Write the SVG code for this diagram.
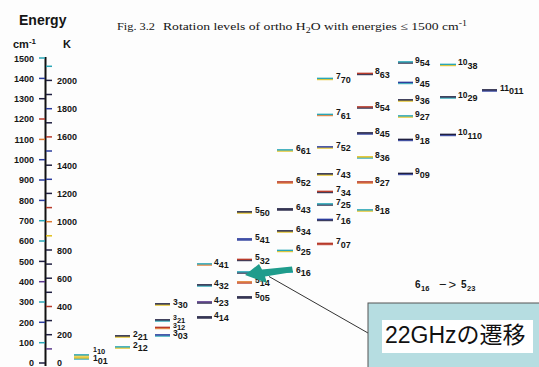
<svg xmlns="http://www.w3.org/2000/svg" width="539" height="367" viewBox="0 0 539 367">
<style>
text{font-family:"Liberation Sans",Arial,sans-serif;fill:#151515}
.ax{font-size:9px;font-weight:bold}
.axr{font-size:9px;font-weight:bold;text-anchor:end}
.hd{font-size:11px;font-weight:bold}
.lb{font-weight:bold}
.j{font-size:8.5px}
.s{font-size:9px}
.sm .j{font-size:7px}
.sm .s{font-size:7.5px}
.ti{font-family:"Liberation Serif","Times New Roman",serif;font-size:11px}
line.m{stroke-width:1.7}
line.a{stroke-width:1}
.k{stroke:#1f1f40}.n{stroke:#2b3c9c}.c{stroke:#2aa6b6}.r{stroke:#b83a2a}.o{stroke:#e07a30}.y{stroke:#e2c01c}.p{stroke:#5b3a8c}
.tk{stroke-width:1.5}
</style>
<rect width="539" height="367" fill="#fdfdfd"/>

<g id="header">
<text x="19" y="25" style="font-size:14px;font-weight:bold">Energy</text>
<text x="13" y="48" class="hd">cm<tspan dy="-4" style="font-size:8px">-1</tspan></text>
<text x="63" y="48" class="hd">K</text>
<text x="117" y="30" class="ti" textLength="38" lengthAdjust="spacingAndGlyphs">Fig. 3.2</text>
<text x="163" y="30" class="ti" textLength="304" lengthAdjust="spacingAndGlyphs">Rotation levels of ortho H<tspan dy="3" style="font-size:8px">2</tspan><tspan dy="-3">O with energies ≤ 1500 cm</tspan><tspan dy="-4" style="font-size:8px">-1</tspan></text>
</g>

<g id="axis">
<line x1="45.5" y1="57" x2="45.5" y2="366" stroke="#111" stroke-width="2"/>
<g class="tk">
<line x1="39" y1="58" x2="45" y2="58" class="c"/>
<line x1="39" y1="78.4" x2="45" y2="78.4" class="n"/>
<line x1="39" y1="98.7" x2="45" y2="98.7" class="k"/>
<line x1="39" y1="119" x2="45" y2="119" class="r"/>
<line x1="39" y1="139.4" x2="45" y2="139.4" class="o"/>
<line x1="39" y1="159.7" x2="45" y2="159.7" class="n"/>
<line x1="39" y1="180" x2="45" y2="180" class="n"/>
<line x1="39" y1="200.4" x2="45" y2="200.4" class="n"/>
<line x1="39" y1="220.7" x2="45" y2="220.7" class="c"/>
<line x1="39" y1="241" x2="45" y2="241" class="c"/>
<line x1="39" y1="261.4" x2="45" y2="261.4" class="k"/>
<line x1="39" y1="281.7" x2="45" y2="281.7" class="p"/>
<line x1="39" y1="302" x2="45" y2="302" class="c"/>
<line x1="39" y1="322.3" x2="45" y2="322.3" class="n"/>
<line x1="39" y1="342.7" x2="45" y2="342.7" class="c"/>
<line x1="39" y1="363" x2="45" y2="363" class="k"/>
<line x1="46" y1="66.3" x2="52" y2="66.3" class="c"/>
<line x1="46" y1="80.4" x2="52" y2="80.4" class="k"/>
<line x1="46" y1="94.5" x2="52" y2="94.5" class="k"/>
<line x1="46" y1="108.7" x2="52" y2="108.7" class="n"/>
<line x1="46" y1="122.8" x2="52" y2="122.8" class="k"/>
<line x1="46" y1="136.9" x2="52" y2="136.9" class="r"/>
<line x1="46" y1="151" x2="52" y2="151" class="n"/>
<line x1="46" y1="165.2" x2="52" y2="165.2" class="k"/>
<line x1="46" y1="179.3" x2="52" y2="179.3" class="n"/>
<line x1="46" y1="193.4" x2="52" y2="193.4" class="k"/>
<line x1="46" y1="207.6" x2="52" y2="207.6" class="r"/>
<line x1="46" y1="221.7" x2="52" y2="221.7" class="o"/>
<line x1="46" y1="235.8" x2="52" y2="235.8" class="y"/>
<line x1="46" y1="250" x2="52" y2="250" class="k"/>
<line x1="46" y1="264.1" x2="52" y2="264.1" class="k"/>
<line x1="46" y1="278.2" x2="52" y2="278.2" class="k"/>
<line x1="46" y1="292.3" x2="52" y2="292.3" class="k"/>
<line x1="46" y1="306.5" x2="52" y2="306.5" class="r"/>
<line x1="46" y1="320.6" x2="52" y2="320.6" class="k"/>
<line x1="46" y1="334.7" x2="52" y2="334.7" class="k"/>
<line x1="46" y1="348.9" x2="52" y2="348.9" class="p"/>
</g>
<text class="axr" x="34" y="62">1500</text>
<text class="axr" x="34" y="82">1400</text>
<text class="axr" x="34" y="102">1300</text>
<text class="axr" x="34" y="122">1200</text>
<text class="axr" x="34" y="143">1100</text>
<text class="axr" x="34" y="163">1000</text>
<text class="axr" x="34" y="183">900</text>
<text class="axr" x="34" y="204">800</text>
<text class="axr" x="34" y="224">700</text>
<text class="axr" x="34" y="244">600</text>
<text class="axr" x="34" y="265">500</text>
<text class="axr" x="34" y="285">400</text>
<text class="axr" x="34" y="305">300</text>
<text class="axr" x="34" y="326">200</text>
<text class="axr" x="34" y="346">100</text>
<text class="axr" x="34" y="366">0</text>
<text class="ax" x="57" y="84">2000</text>
<text class="ax" x="57" y="112">1800</text>
<text class="ax" x="57" y="140">1600</text>
<text class="ax" x="57" y="169">1400</text>
<text class="ax" x="57" y="197">1200</text>
<text class="ax" x="57" y="225">1000</text>
<text class="ax" x="57" y="254">800</text>
<text class="ax" x="57" y="282">600</text>
<text class="ax" x="57" y="310">400</text>
<text class="ax" x="57" y="338">200</text>
<text class="ax" x="57" y="366">0</text>
</g>

<g id="l1_10"><line class="m c" x1="74" y1="355" x2="89" y2="355"/><line class="a y" x1="74" y1="356.2" x2="89" y2="356.2"/><text class="lb sm" x="93" y="351.5"><tspan class="j">1</tspan><tspan class="s" dy="2">10</tspan></text></g>
<g id="l1_01"><line class="m y" x1="74" y1="358" x2="89" y2="358"/><line class="a c" x1="74" y1="359.2" x2="89" y2="359.2"/><text class="lb" x="93" y="360.5"><tspan class="j">1</tspan><tspan class="s" dy="3.5">01</tspan></text></g>

<g id="l2_21"><line class="m k" x1="115" y1="336" x2="130" y2="336"/><line class="a y" x1="115" y1="337.2" x2="130" y2="337.2"/><text class="lb" x="133" y="336.5"><tspan class="j">2</tspan><tspan class="s" dy="3.5">21</tspan></text></g>
<g id="l2_12"><line class="m c" x1="115" y1="347" x2="130" y2="347"/><line class="a y" x1="115" y1="348.2" x2="130" y2="348.2"/><text class="lb" x="133" y="347.5"><tspan class="j">2</tspan><tspan class="s" dy="3.5">12</tspan></text></g>

<g id="l3_30"><line class="m k" x1="155" y1="304" x2="170" y2="304"/><line class="a y" x1="155" y1="305.2" x2="170" y2="305.2"/><text class="lb" x="173" y="304.5"><tspan class="j">3</tspan><tspan class="s" dy="3.5">30</tspan></text></g>
<g id="l3_21"><line class="m k" x1="155" y1="320" x2="170" y2="320"/><line class="a c" x1="155" y1="321.2" x2="170" y2="321.2"/><text class="lb sm" x="173" y="320"><tspan class="j">3</tspan><tspan class="s" dy="2.5">21</tspan></text></g>
<g id="l3_12"><line class="m r" x1="155" y1="327.5" x2="170" y2="327.5"/><line class="a o" x1="155" y1="328.7" x2="170" y2="328.7"/><text class="lb sm" x="173" y="327.5"><tspan class="j">3</tspan><tspan class="s" dy="2.5">12</tspan></text></g>
<g id="l3_03"><line class="m n" x1="155" y1="335" x2="170" y2="335"/><line class="a c" x1="155" y1="336.2" x2="170" y2="336.2"/><text class="lb" x="173" y="335.8"><tspan class="j">3</tspan><tspan class="s" dy="3.5">03</tspan></text></g>

<g id="l4_41"><line class="m c" x1="197" y1="264" x2="212" y2="264"/><line class="a o" x1="197" y1="265.2" x2="212" y2="265.2"/><text class="lb" x="214" y="264.5"><tspan class="j">4</tspan><tspan class="s" dy="3.5">41</tspan></text></g>
<g id="l4_32"><line class="m k" x1="197" y1="285" x2="212" y2="285"/><line class="a c" x1="197" y1="286.2" x2="212" y2="286.2"/><text class="lb" x="214" y="285.5"><tspan class="j">4</tspan><tspan class="s" dy="3.5">32</tspan></text></g>
<g id="l4_23"><line class="m p" x1="197" y1="302" x2="212" y2="302"/><line class="a k" x1="197" y1="303.2" x2="212" y2="303.2"/><text class="lb" x="214" y="302.5"><tspan class="j">4</tspan><tspan class="s" dy="3.5">23</tspan></text></g>
<g id="l4_14"><line class="m k" x1="197" y1="317" x2="212" y2="317"/><line class="a k" x1="197" y1="318.2" x2="212" y2="318.2"/><text class="lb" x="214" y="317.5"><tspan class="j">4</tspan><tspan class="s" dy="3.5">14</tspan></text></g>

<g id="l5_50"><line class="m k" x1="237" y1="212" x2="252" y2="212"/><line class="a y" x1="237" y1="213.2" x2="252" y2="213.2"/><text class="lb" x="255" y="212.5"><tspan class="j">5</tspan><tspan class="s" dy="3.5">50</tspan></text></g>
<g id="l5_41"><line class="m n" x1="237" y1="239" x2="252" y2="239"/><line class="a n" x1="237" y1="240.2" x2="252" y2="240.2"/><text class="lb" x="255" y="239.5"><tspan class="j">5</tspan><tspan class="s" dy="3.5">41</tspan></text></g>
<g id="l5_32"><line class="m r" x1="237" y1="259.5" x2="252" y2="259.5"/><line class="a k" x1="237" y1="260.7" x2="252" y2="260.7"/><text class="lb" x="255" y="260"><tspan class="j">5</tspan><tspan class="s" dy="3.5">32</tspan></text></g>
<g id="l5_23"><line class="m c" x1="237" y1="272" x2="252" y2="272"/><line class="a k" x1="237" y1="273.2" x2="252" y2="273.2"/><text class="lb" x="255" y="272.5"><tspan class="j">5</tspan><tspan class="s" dy="3.5">23</tspan></text></g>
<g id="l5_14"><line class="m o" x1="237" y1="282" x2="252" y2="282"/><line class="a r" x1="237" y1="283.2" x2="252" y2="283.2"/><text class="lb" x="255" y="282.5"><tspan class="j">5</tspan><tspan class="s" dy="3.5">14</tspan></text></g>
<g id="l5_05"><line class="m k" x1="237" y1="297" x2="252" y2="297"/><line class="a k" x1="237" y1="298.2" x2="252" y2="298.2"/><text class="lb" x="255" y="297.5"><tspan class="j">5</tspan><tspan class="s" dy="3.5">05</tspan></text></g>

<g id="l6_61"><line class="m c" x1="277" y1="150" x2="293" y2="150"/><line class="a y" x1="277" y1="151.2" x2="293" y2="151.2"/><text class="lb" x="296" y="150.5"><tspan class="j">6</tspan><tspan class="s" dy="3.5">61</tspan></text></g>
<g id="l6_52"><line class="m r" x1="277" y1="182" x2="293" y2="182"/><line class="a o" x1="277" y1="183.2" x2="293" y2="183.2"/><text class="lb" x="296" y="182.5"><tspan class="j">6</tspan><tspan class="s" dy="3.5">52</tspan></text></g>
<g id="l6_43"><line class="m k" x1="277" y1="209" x2="293" y2="209"/><line class="a k" x1="277" y1="210.2" x2="293" y2="210.2"/><text class="lb" x="296" y="209.5"><tspan class="j">6</tspan><tspan class="s" dy="3.5">43</tspan></text></g>
<g id="l6_34"><line class="m k" x1="277" y1="231" x2="293" y2="231"/><line class="a y" x1="277" y1="232.2" x2="293" y2="232.2"/><text class="lb" x="296" y="231.5"><tspan class="j">6</tspan><tspan class="s" dy="3.5">34</tspan></text></g>
<g id="l6_25"><line class="m c" x1="277" y1="250.5" x2="293" y2="250.5"/><line class="a y" x1="277" y1="251.7" x2="293" y2="251.7"/><text class="lb" x="296" y="251"><tspan class="j">6</tspan><tspan class="s" dy="3.5">25</tspan></text></g>
<g id="l6_16"><line class="m c" x1="277" y1="272" x2="293" y2="272"/><text class="lb" x="296" y="272.5"><tspan class="j">6</tspan><tspan class="s" dy="3.5">16</tspan></text></g>

<g id="l7_70"><line class="m c" x1="317" y1="78.5" x2="333" y2="78.5"/><line class="a y" x1="317" y1="79.7" x2="333" y2="79.7"/><text class="lb" x="336" y="79"><tspan class="j">7</tspan><tspan class="s" dy="3.5">70</tspan></text></g>
<g id="l7_61"><line class="m c" x1="317" y1="114.5" x2="333" y2="114.5"/><line class="a o" x1="317" y1="115.7" x2="333" y2="115.7"/><text class="lb" x="336" y="115"><tspan class="j">7</tspan><tspan class="s" dy="3.5">61</tspan></text></g>
<g id="l7_52"><line class="m n" x1="317" y1="147" x2="333" y2="147"/><line class="a y" x1="317" y1="148.2" x2="333" y2="148.2"/><text class="lb" x="336" y="147.5"><tspan class="j">7</tspan><tspan class="s" dy="3.5">52</tspan></text></g>
<g id="l7_43"><line class="m k" x1="317" y1="174" x2="333" y2="174"/><line class="a y" x1="317" y1="175.2" x2="333" y2="175.2"/><text class="lb" x="336" y="174.5"><tspan class="j">7</tspan><tspan class="s" dy="3.5">43</tspan></text></g>
<g id="l7_34"><line class="m r" x1="317" y1="191.5" x2="333" y2="191.5"/><line class="a k" x1="317" y1="192.7" x2="333" y2="192.7"/><text class="lb" x="336" y="192"><tspan class="j">7</tspan><tspan class="s" dy="3.5">34</tspan></text></g>
<g id="l7_25"><line class="m c" x1="317" y1="204" x2="333" y2="204"/><line class="a k" x1="317" y1="205.2" x2="333" y2="205.2"/><text class="lb" x="336" y="204.5"><tspan class="j">7</tspan><tspan class="s" dy="3.5">25</tspan></text></g>
<g id="l7_16"><line class="m n" x1="317" y1="219.5" x2="333" y2="219.5"/><line class="a k" x1="317" y1="220.7" x2="333" y2="220.7"/><text class="lb" x="336" y="220"><tspan class="j">7</tspan><tspan class="s" dy="3.5">16</tspan></text></g>
<g id="l7_07"><line class="m r" x1="317" y1="243.5" x2="333" y2="243.5"/><line class="a r" x1="317" y1="244.7" x2="333" y2="244.7"/><text class="lb" x="336" y="244"><tspan class="j">7</tspan><tspan class="s" dy="3.5">07</tspan></text></g>

<g id="l8_63"><line class="m r" x1="357" y1="73.5" x2="373" y2="73.5"/><line class="a k" x1="357" y1="74.7" x2="373" y2="74.7"/><text class="lb" x="375" y="74"><tspan class="j">8</tspan><tspan class="s" dy="3.5">63</tspan></text></g>
<g id="l8_54"><line class="m r" x1="357" y1="107" x2="373" y2="107"/><line class="a k" x1="357" y1="108.2" x2="373" y2="108.2"/><text class="lb" x="375" y="107.5"><tspan class="j">8</tspan><tspan class="s" dy="3.5">54</tspan></text></g>
<g id="l8_45"><line class="m k" x1="357" y1="133" x2="373" y2="133"/><line class="a n" x1="357" y1="134.2" x2="373" y2="134.2"/><text class="lb" x="375" y="133.5"><tspan class="j">8</tspan><tspan class="s" dy="3.5">45</tspan></text></g>
<g id="l8_36"><line class="m y" x1="357" y1="157" x2="373" y2="157"/><line class="a c" x1="357" y1="158.2" x2="373" y2="158.2"/><text class="lb" x="375" y="157.5"><tspan class="j">8</tspan><tspan class="s" dy="3.5">36</tspan></text></g>
<g id="l8_27"><line class="m r" x1="357" y1="182" x2="373" y2="182"/><line class="a o" x1="357" y1="183.2" x2="373" y2="183.2"/><text class="lb" x="375" y="182.5"><tspan class="j">8</tspan><tspan class="s" dy="3.5">27</tspan></text></g>
<g id="l8_18"><line class="m c" x1="357" y1="210" x2="373" y2="210"/><line class="a y" x1="357" y1="211.2" x2="373" y2="211.2"/><text class="lb" x="375" y="210.5"><tspan class="j">8</tspan><tspan class="s" dy="3.5">18</tspan></text></g>

<g id="l9_54"><line class="m c" x1="398" y1="62" x2="413" y2="62"/><line class="a k" x1="398" y1="63.2" x2="413" y2="63.2"/><text class="lb" x="415" y="62.5"><tspan class="j">9</tspan><tspan class="s" dy="3.5">54</tspan></text></g>
<g id="l9_45"><line class="m n" x1="398" y1="82.5" x2="413" y2="82.5"/><line class="a c" x1="398" y1="83.7" x2="413" y2="83.7"/><text class="lb" x="415" y="83"><tspan class="j">9</tspan><tspan class="s" dy="3.5">45</tspan></text></g>
<g id="l9_36"><line class="m k" x1="398" y1="100" x2="413" y2="100"/><line class="a y" x1="398" y1="101.2" x2="413" y2="101.2"/><text class="lb" x="415" y="100.5"><tspan class="j">9</tspan><tspan class="s" dy="3.5">36</tspan></text></g>
<g id="l9_27"><line class="m c" x1="398" y1="116" x2="413" y2="116"/><line class="a y" x1="398" y1="117.2" x2="413" y2="117.2"/><text class="lb" x="415" y="116.5"><tspan class="j">9</tspan><tspan class="s" dy="3.5">27</tspan></text></g>
<g id="l9_18"><line class="m k" x1="398" y1="139.5" x2="413" y2="139.5"/><line class="a n" x1="398" y1="140.7" x2="413" y2="140.7"/><text class="lb" x="415" y="140"><tspan class="j">9</tspan><tspan class="s" dy="3.5">18</tspan></text></g>
<g id="l9_09"><line class="m k" x1="398" y1="173.5" x2="413" y2="173.5"/><line class="a n" x1="398" y1="174.7" x2="413" y2="174.7"/><text class="lb" x="415" y="174"><tspan class="j">9</tspan><tspan class="s" dy="3.5">09</tspan></text></g>

<g id="l10_38"><line class="m c" x1="440" y1="64.5" x2="456" y2="64.5"/><line class="a y" x1="440" y1="65.7" x2="456" y2="65.7"/><text class="lb" x="458" y="65"><tspan class="j">10</tspan><tspan class="s" dy="3.5">38</tspan></text></g>
<g id="l10_29"><line class="m k" x1="440" y1="97" x2="456" y2="97"/><line class="a c" x1="440" y1="98.2" x2="456" y2="98.2"/><text class="lb" x="458" y="97.5"><tspan class="j">10</tspan><tspan class="s" dy="3.5">29</tspan></text></g>
<g id="l10_110"><line class="m k" x1="440" y1="134.5" x2="456" y2="134.5"/><line class="a n" x1="440" y1="135.7" x2="456" y2="135.7"/><text class="lb" x="458" y="135"><tspan class="j">10</tspan><tspan class="s" dy="3.5">110</tspan></text></g>
<g id="l11_011"><line class="m k" x1="482" y1="90" x2="497" y2="90"/><line class="a n" x1="482" y1="91.2" x2="497" y2="91.2"/><text class="lb" x="500" y="90.5"><tspan class="j">11</tspan><tspan class="s" dy="3.5">011</tspan></text></g>

<g id="connectors">
<polygon points="245,275 259,264 262,269.5 292,266.5 293,272 265,276.5 267,283" fill="#1f9c8c"/>
<line x1="269" y1="276.5" x2="368" y2="333" stroke="#333" stroke-width="1"/>
</g>

<g id="transition">
<text x="415" y="288" style="font-size:10px;font-weight:bold">6</text>
<text x="421" y="291" style="font-size:7.5px;font-weight:bold">16</text>
<text x="439" y="289" style="font-size:13px;letter-spacing:2px">−&gt;</text>
<text x="461" y="288" style="font-size:10px;font-weight:bold">5</text>
<text x="467" y="291" style="font-size:7.5px;font-weight:bold">23</text>
</g>

<g id="callout">
<rect x="368" y="303" width="180" height="80" fill="#b6dde1" stroke="#555" stroke-width="1"/>
<rect x="382" y="320" width="151" height="33" fill="#ffffff"/>
<text x="385" y="343" style="font-family:'Liberation Sans','Noto Sans CJK JP',sans-serif;font-size:23px;fill:#111">22GHzの遷移</text>
</g>
</svg>
